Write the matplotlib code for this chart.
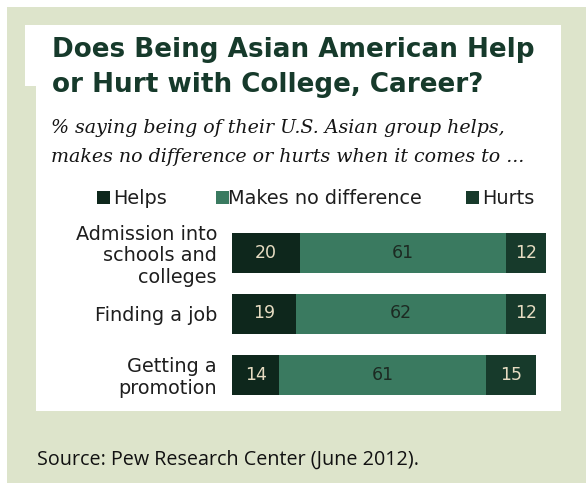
import matplotlib
matplotlib.use("Agg")
import matplotlib.pyplot as plt
from matplotlib.patches import Rectangle
import numpy as np

# ---- data ----
categories = ["Admission into\nschools and\ncolleges", "Finding a job", "Getting a\npromotion"]
helps = [20, 19, 14]
no_diff = [61, 62, 61]
hurts = [12, 12, 15]
series_names = ["Helps", "Makes no difference", "Hurts"]

title_lines = ["Does Being Asian American Help", "or Hurt with College, Career?"]
subtitle_lines = ["% saying being of their U.S. Asian group helps,",
                  "makes no difference or hurts when it comes to ..."]
source_text = "Source: Pew Research Center (June 2012)."

# ---- style ----
W, H = 586, 483
BG = "#dde4cb"
C_HELPS = "#0e271c"
C_MID = "#3a7a60"
C_HURTS = "#173a2b"
TITLE_C = "#163a2b"
TXT = "#1e1e1e"
LIGHT_NUM = "#e6dcc2"

fig = plt.figure(figsize=(W / 100, H / 100), dpi=100)
fig.patch.set_facecolor(BG)


def fx(x):
    return x / W


def fy(y):
    return 1 - y / H


def frect(x0, y0, x1, y1, color, z=-5):
    fig.patches.append(Rectangle((fx(x0), fy(y1)), (x1 - x0) / W, (y1 - y0) / H,
                                 transform=fig.transFigure, facecolor=color,
                                 edgecolor="none", zorder=z))


# white strips at top/left edge and panel
frect(0, 0, W, 7, "white")
frect(0, 0, 7, H, "white")
frect(25, 25, 561, 86, "white")
frect(36, 25, 561, 411, "white")

renderer = fig.canvas.get_renderer()


def fit_text(x, y, s, width, size0, **kw):
    t = fig.text(fx(x), fy(y), s, fontsize=size0, **kw)
    w = t.get_window_extent(renderer=renderer).width
    t.set_fontsize(size0 * width / w)
    return t


# title
t = fit_text(52, 57, title_lines[0], 482, 19, family="DejaVu Sans", weight="bold",
             color=TITLE_C, va="baseline", ha="left")
ts = t.get_fontsize()
fig.text(fx(52), fy(92), title_lines[1], fontsize=ts, family="DejaVu Sans",
         weight="bold", color=TITLE_C, va="baseline", ha="left")

# subtitle
t = fit_text(51, 133, subtitle_lines[0], 455, 14, family="DejaVu Serif",
             style="italic", color="#141414", va="baseline", ha="left")
ss = t.get_fontsize()
fig.text(fx(51), fy(162), subtitle_lines[1], fontsize=ss, family="DejaVu Serif",
         style="italic", color="#141414", va="baseline", ha="left")

# legend
leg_fs = 13.9
leg_sq = [97, 216, 466]
leg_tx = [113, 228, 482]
for name, c, sx, tx in zip(series_names, [C_HELPS, C_MID, C_HURTS], leg_sq, leg_tx):
    frect(sx, 191, sx + 13, 204, c, z=2)
    fig.text(fx(tx), fy(204), name, fontsize=leg_fs, family="DejaVu Sans",
             color=TXT, va="baseline", ha="left")

# bars
unit = 3.38
ax_left = 232
ax_right = ax_left + 100 * unit
top, bottom = 222, 405
ax = fig.add_axes([fx(ax_left), fy(bottom), (ax_right - ax_left) / W, (bottom - top) / H])
ax.set_zorder(3)
ax.set_xlim(0, 100)
ax.set_ylim(2.5, -0.5)
ax.patch.set_alpha(0)
for sp in ax.spines.values():
    sp.set_visible(False)

y = np.arange(len(categories))
hgt = 40 / 61
helps_a = np.array(helps)
mid_a = np.array(no_diff)
hurts_a = np.array(hurts)
ax.barh(y, helps_a, height=hgt, color=C_HELPS, edgecolor="none")
ax.barh(y, mid_a, left=helps_a, height=hgt, color=C_MID, edgecolor="none")
ax.barh(y, hurts_a, left=helps_a + mid_a, height=hgt, color=C_HURTS, edgecolor="none")

num_fs = 12.5
for i in range(len(categories)):
    ax.text(helps_a[i] / 2, y[i], str(helps[i]), ha="center", va="center",
            color=LIGHT_NUM, fontsize=num_fs, family="DejaVu Sans")
    ax.text(helps_a[i] + mid_a[i] / 2, y[i], str(no_diff[i]), ha="center", va="center",
            color="#1c2a22", fontsize=num_fs, family="DejaVu Sans")
    ax.text(helps_a[i] + mid_a[i] + hurts_a[i] / 2, y[i], str(hurts[i]), ha="center",
            va="center", color=LIGHT_NUM, fontsize=num_fs, family="DejaVu Sans")

ax.set_xticks([])
ax.set_yticks(y)
ax.set_yticklabels(categories, fontsize=13.9, family="DejaVu Sans", color=TXT,
                   ha="right", linespacing=1.17)
ax.tick_params(axis="y", length=0, pad=15 * 0.72)

# source
fit_text(37, 460, source_text, 383, 14, family="Open Sans", color="#111111",
         va="center", ha="left")

fig.savefig("out.png", dpi=100, facecolor=BG)
